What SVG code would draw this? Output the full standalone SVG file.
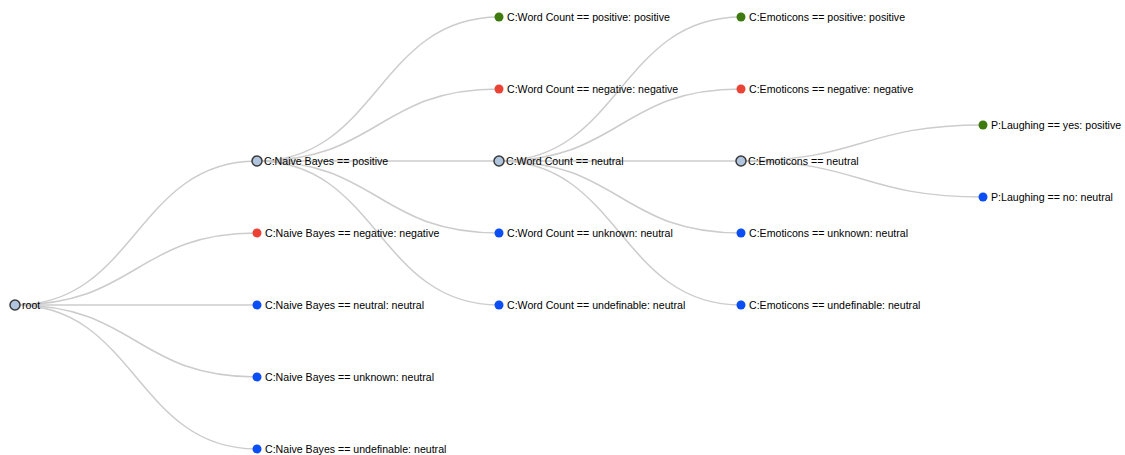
<svg xmlns="http://www.w3.org/2000/svg" width="1125" height="455" viewBox="0 0 1125 455">
<style>
.link{fill:none;stroke:#cccccc;stroke-width:1.5px}
.node text{font-family:"Liberation Sans",Arial,sans-serif;font-size:10.6px;fill:#000}
.inner{fill:#b0c4de;stroke:#3a3a3a;stroke-width:1.5px}
.pos{fill:#3f7a0e}
.neg{fill:#ea4335}
.neu{fill:#0b4ef5}
</style>
<rect width="1125" height="455" fill="#ffffff"/>
<g id="links">
<path class="link" d="M15,305C136,305 136,161 257,161"/>
<path class="link" d="M15,305C136,305 136,233 257,233"/>
<path class="link" d="M15,305C136,305 136,305 257,305"/>
<path class="link" d="M15,305C136,305 136,377 257,377"/>
<path class="link" d="M15,305C136,305 136,449 257,449"/>
<path class="link" d="M257,161C378,161 378,17 499,17"/>
<path class="link" d="M257,161C378,161 378,89 499,89"/>
<path class="link" d="M257,161C378,161 378,161 499,161"/>
<path class="link" d="M257,161C378,161 378,233 499,233"/>
<path class="link" d="M257,161C378,161 378,305 499,305"/>
<path class="link" d="M499,161C620,161 620,17 741,17"/>
<path class="link" d="M499,161C620,161 620,89 741,89"/>
<path class="link" d="M499,161C620,161 620,161 741,161"/>
<path class="link" d="M499,161C620,161 620,233 741,233"/>
<path class="link" d="M499,161C620,161 620,305 741,305"/>
<path class="link" d="M741,161C862,161 862,125 983,125"/>
<path class="link" d="M741,161C862,161 862,197 983,197"/>
</g>
<g id="root" class="node" transform="translate(15,305)"><circle class="inner" r="5"/><text x="7" dy=".35em">root</text></g>
<g id="nb-positive" class="node" transform="translate(257,161)"><circle class="inner" r="5"/><text x="7" dy=".35em">C:Naive Bayes == positive</text></g>
<g id="nb-negative" class="node" transform="translate(257,233)"><circle class="neg" r="4.5"/><text x="8" dy=".35em">C:Naive Bayes == negative: negative</text></g>
<g id="nb-neutral" class="node" transform="translate(257,305)"><circle class="neu" r="4.5"/><text x="8" dy=".35em">C:Naive Bayes == neutral: neutral</text></g>
<g id="nb-unknown" class="node" transform="translate(257,377)"><circle class="neu" r="4.5"/><text x="8" dy=".35em">C:Naive Bayes == unknown: neutral</text></g>
<g id="nb-undefinable" class="node" transform="translate(257,449)"><circle class="neu" r="4.5"/><text x="8" dy=".35em">C:Naive Bayes == undefinable: neutral</text></g>
<g id="wc-positive" class="node" transform="translate(499,17)"><circle class="pos" r="4.5"/><text x="8" dy=".35em">C:Word Count == positive: positive</text></g>
<g id="wc-negative" class="node" transform="translate(499,89)"><circle class="neg" r="4.5"/><text x="8" dy=".35em">C:Word Count == negative: negative</text></g>
<g id="wc-neutral" class="node" transform="translate(499,161)"><circle class="inner" r="5"/><text x="7" dy=".35em">C:Word Count == neutral</text></g>
<g id="wc-unknown" class="node" transform="translate(499,233)"><circle class="neu" r="4.5"/><text x="8" dy=".35em">C:Word Count == unknown: neutral</text></g>
<g id="wc-undefinable" class="node" transform="translate(499,305)"><circle class="neu" r="4.5"/><text x="8" dy=".35em">C:Word Count == undefinable: neutral</text></g>
<g id="em-positive" class="node" transform="translate(741,17)"><circle class="pos" r="4.5"/><text x="8" dy=".35em">C:Emoticons == positive: positive</text></g>
<g id="em-negative" class="node" transform="translate(741,89)"><circle class="neg" r="4.5"/><text x="8" dy=".35em">C:Emoticons == negative: negative</text></g>
<g id="em-neutral" class="node" transform="translate(741,161)"><circle class="inner" r="5"/><text x="7" dy=".35em">C:Emoticons == neutral</text></g>
<g id="em-unknown" class="node" transform="translate(741,233)"><circle class="neu" r="4.5"/><text x="8" dy=".35em">C:Emoticons == unknown: neutral</text></g>
<g id="em-undefinable" class="node" transform="translate(741,305)"><circle class="neu" r="4.5"/><text x="8" dy=".35em">C:Emoticons == undefinable: neutral</text></g>
<g id="lg-yes" class="node" transform="translate(983,125)"><circle class="pos" r="4.5"/><text x="8" dy=".35em">P:Laughing == yes: positive</text></g>
<g id="lg-no" class="node" transform="translate(983,197)"><circle class="neu" r="4.5"/><text x="8" dy=".35em">P:Laughing == no: neutral</text></g>
</svg>
